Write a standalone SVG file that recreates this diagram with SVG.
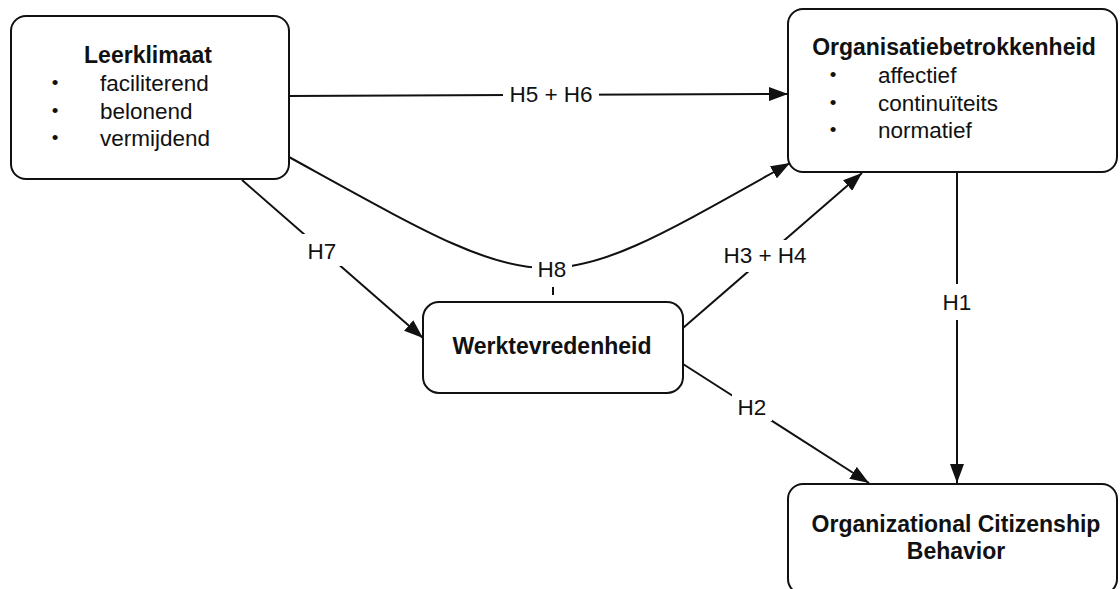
<svg xmlns="http://www.w3.org/2000/svg" width="1120" height="589" viewBox="0 0 1120 589">
<style>
.box{fill:#fff;stroke:#111;stroke-width:2}
.edge{fill:none;stroke:#111;stroke-width:2}
.t{font-family:"Liberation Sans",Arial,Helvetica,sans-serif;fill:#111}
.title{font-size:23px;font-weight:bold}
.item{font-size:22.5px}
.bul{font-size:19px;text-anchor:middle}
.lbl{font-size:22.5px;text-anchor:middle}
.bg{fill:#fff}
</style>
<defs>
<marker id="arr" markerUnits="userSpaceOnUse" markerWidth="20" markerHeight="14" refX="19" refY="7" orient="auto">
<path d="M0,0 L19,7 L0,14 z" fill="#111"/>
</marker>
</defs>
<rect width="1120" height="589" fill="#fff"/>
<g id="connectors">
<path class="edge" d="M289,96 L788,94" marker-end="url(#arr)"/>
<path class="edge" d="M289,157 C556,304 538,304 790,163" marker-end="url(#arr)"/>
<path class="edge" d="M242,180 L423,338" marker-end="url(#arr)"/>
<path class="edge" d="M683,328 L862,173" marker-end="url(#arr)"/>
<path class="edge" d="M683,364 L869,483" marker-end="url(#arr)"/>
<path class="edge" d="M957,172 L957,483" marker-end="url(#arr)"/>
<line class="edge" x1="553" y1="287" x2="553" y2="295"/>
<rect class="bg" x="503" y="80" width="96" height="28"/>
<text class="t lbl" x="551" y="102">H5 + H6</text>
<rect class="bg" x="532" y="254" width="40" height="28"/>
<text class="t lbl" x="552" y="277">H8</text>
<rect class="bg" x="302" y="234" width="40" height="32"/>
<text class="t lbl" x="322" y="259">H7</text>
<rect class="bg" x="727" y="240" width="78" height="32"/>
<text class="t lbl" x="765" y="263">H3 + H4</text>
<rect class="bg" x="732" y="394" width="40" height="27"/>
<text class="t lbl" x="752" y="415">H2</text>
<rect class="bg" x="937" y="284" width="40" height="36"/>
<text class="t lbl" x="957" y="310">H1</text>
</g>
<g id="leerklimaat">
<rect class="box" x="11" y="16" width="278" height="163" rx="15"/>
<text class="t title" x="148" y="63" text-anchor="middle">Leerklimaat</text>
<text class="t bul" x="55" y="89">•</text>
<text class="t item" x="100" y="91">faciliterend</text>
<text class="t bul" x="55" y="117">•</text>
<text class="t item" x="100" y="119">belonend</text>
<text class="t bul" x="55" y="144">•</text>
<text class="t item" x="100" y="146">vermijdend</text>
</g>
<g id="organisatiebetrokkenheid">
<rect class="box" x="788" y="9" width="329" height="163" rx="15"/>
<text class="t title" x="954" y="55" text-anchor="middle">Organisatiebetrokkenheid</text>
<text class="t bul" x="833" y="81">•</text>
<text class="t item" x="878" y="83">affectief</text>
<text class="t bul" x="833" y="109">•</text>
<text class="t item" x="878" y="111">continuïteits</text>
<text class="t bul" x="833" y="136">•</text>
<text class="t item" x="878" y="138">normatief</text>
</g>
<g id="werktevredenheid">
<rect class="box" x="423" y="302" width="260" height="91" rx="16"/>
<text class="t title" x="552" y="354" text-anchor="middle">Werktevredenheid</text>
</g>
<g id="ocb">
<rect class="box" x="788" y="484" width="329" height="110" rx="15"/>
<text class="t title" x="956" y="532" text-anchor="middle">Organizational Citizenship</text>
<text class="t title" x="956" y="559" text-anchor="middle">Behavior</text>
</g>
</svg>
